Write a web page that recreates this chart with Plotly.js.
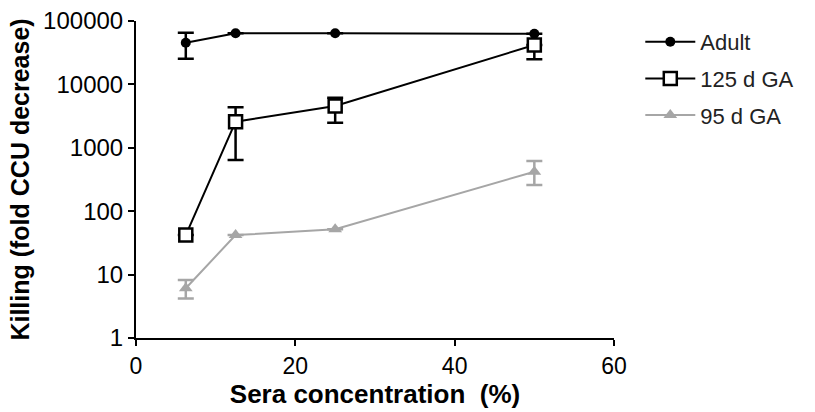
<!DOCTYPE html>
<html>
<head>
<meta charset="utf-8">
<script src="https://cdn.plot.ly/plotly-2.35.2.min.js"></script>
<style>html,body{margin:0;padding:0;background:#fff;}#chart{width:815px;height:412px;}</style>
</head>
<body>
<div id="chart"></div>
<script>
// Data
var concentration = [6.25, 12.5, 25, 50];

var adultName = "Adult";
var adultValues = [45500, 64000, 64000, 63000];
var adultErrPlus = [19500, 0, 0, 0];
var adultErrMinus = [20100, 0, 0, 0];

var ga125Name = "125 d GA";
var ga125Values = [42, 2580, 4570, 41800];
var ga125ErrPlus = [0, 1770, 1600, 0];
var ga125ErrMinus = [0, 1937, 2080, 16900];

var ga95Name = "95 d GA";
var ga95Values = [6.1, 42, 52, 420];
var ga95ErrPlus = [2.1, 0, 0, 200];
var ga95ErrMinus = [1.9, 0, 0, 161];

var yTickVals = [1, 10, 100, 1000, 10000, 100000];
var yTickText = ["1", "10", "100", "1000", "10000", "100000"];
var xTickVals = [0, 20, 40, 60];

var fontFam = "Liberation Sans, Arial, sans-serif";

function errObj(plus, minus, color) {
  return {type: "data", symmetric: false, array: plus, arrayminus: minus,
          color: color, thickness: 2.5, width: 8, visible: true};
}

var traces = [
  {x: concentration, y: adultValues, name: adultName, mode: "lines+markers",
   legendgroup: "a",
   line: {color: "#000", width: 2},
   marker: {symbol: "circle", size: 10, color: "#000"},
   error_y: errObj(adultErrPlus, adultErrMinus, "#000")},
  {x: concentration, y: ga125Values, name: ga125Name, mode: "lines+markers",
   legendgroup: "b",
   line: {color: "#000", width: 2},
   marker: {symbol: "square", size: 13, color: "#fff", line: {color: "#000", width: 2.5}},
   error_y: errObj(ga125ErrPlus, ga125ErrMinus, "#000")},
  {x: concentration, y: ga95Values, name: ga95Name, mode: "lines+markers",
   legendgroup: "c",
   line: {color: "#a6a6a6", width: 2},
   marker: {symbol: "triangle-up", size: 12, color: "#a6a6a6"},
   error_y: errObj(ga95ErrPlus, ga95ErrMinus, "#a6a6a6")}
];

var layout = {
  width: 815, height: 412,
  margin: {l: 136, r: 201, t: 21, b: 74, autoexpand: false},
  paper_bgcolor: "#fff", plot_bgcolor: "#fff",
  font: {family: fontFam, color: "#000", size: 22},
  showlegend: true,
  legend: {x: 1.055, y: 1.0, xanchor: "left", yanchor: "top",
           font: {size: 22, family: fontFam, color: "#222"},
           itemwidth: 50,
           tracegroupgap: 5, bgcolor: "rgba(0,0,0,0)"},
  xaxis: {
    range: [0, 60], tickvals: xTickVals, ticktext: xTickVals.map(String),
    showline: true, linecolor: "#000", linewidth: 2, zeroline: false,
    showgrid: false, ticks: "outside", ticklen: 6, tickwidth: 2, tickcolor: "#000",
    tickfont: {size: 23, family: fontFam},
    title: {text: "Sera concentration  (%)", font: {size: 26, family: fontFam, weight: "bold"}, standoff: 4}
  },
  yaxis: {
    type: "log", range: [0, 5], tickvals: yTickVals, ticktext: yTickText,
    showline: true, linecolor: "#000", linewidth: 2, zeroline: false,
    showgrid: false, ticks: "outside", ticklen: 6, tickwidth: 2, tickcolor: "#000",
    tickfont: {size: 24, family: fontFam},
    title: {text: "Killing (fold CCU decrease)", font: {size: 25, family: fontFam, weight: "bold"}, standoff: 6}
  }
};

Plotly.newPlot("chart", traces, layout, {displayModeBar: false, staticPlot: true});
</script>
</body>
</html>
